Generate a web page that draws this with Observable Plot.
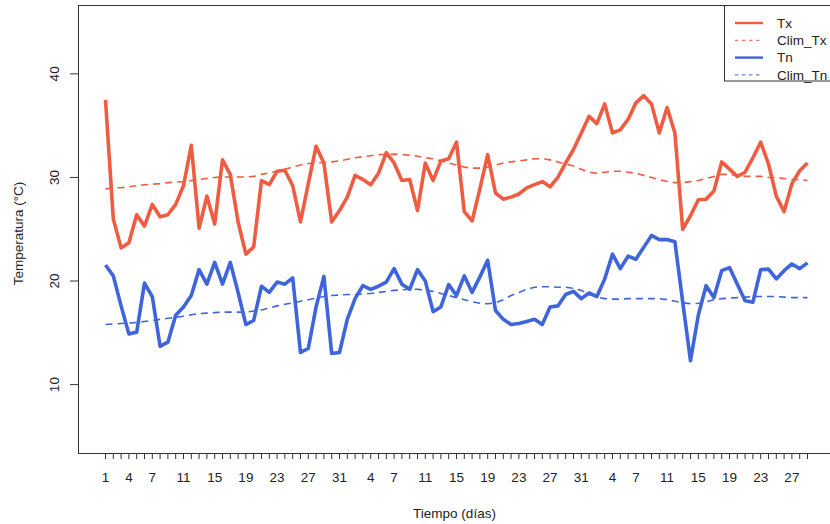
<!DOCTYPE html>
<html>
<head>
<meta charset="utf-8">
<script src="https://cdn.jsdelivr.net/npm/d3@7"></script>
<script src="https://cdn.jsdelivr.net/npm/@observablehq/plot@0.6"></script>
<style>
  body { margin: 0; background: #fff; }
  #chart svg { display: block; }
</style>
</head>
<body>
<div id="chart"></div>
<script>
// Three consecutive months of daily temperatures (Dec, Jan, Feb)
const monthLengths = [31, 31, 29];

// Observed daily maximum temperature (°C)
const tx = [
  37.5, 26.0, 23.2, 23.7, 26.4, 25.3, 27.4, 26.2, 26.4, 27.4,
  29.2, 33.1, 25.1, 28.2, 25.5, 31.7, 30.3, 25.7, 22.6, 23.3,
  29.7, 29.3, 30.6, 30.7, 29.2, 25.7, 29.4, 33.0, 31.4, 25.7,
  26.8, 28.1, 30.2, 29.8, 29.3, 30.4, 32.4, 31.4, 29.7, 29.8,
  26.8, 31.4, 29.7, 31.6, 31.8, 33.4, 26.7, 25.8, 28.9, 32.2,
  28.5, 27.9, 28.1, 28.4, 29.0, 29.3, 29.6, 29.1, 30.0, 31.4,
  32.7, 34.3, 35.9, 35.2, 37.1, 34.3, 34.6, 35.6, 37.2, 37.9,
  37.1, 34.3, 36.75, 34.3, 25.0, 26.3, 27.85, 27.9, 28.7, 31.5,
  30.8, 30.1, 30.5, 31.9, 33.4, 31.3, 28.2, 26.7, 29.4, 30.65,
  31.4
];

// Climatological daily maximum (°C)
const climTx = [
  28.9, 29.0, 29.0, 29.1, 29.2, 29.3, 29.35, 29.4, 29.5, 29.55,
  29.6, 29.7, 29.8, 29.9, 30.0, 30.05, 30.05, 30.05, 30.05, 30.1,
  30.3, 30.45, 30.6, 30.8, 31.0, 31.2, 31.35, 31.4, 31.45, 31.5,
  31.6, 31.75, 31.9, 32.0, 32.1, 32.2, 32.2, 32.25, 32.2, 32.15,
  32.05, 31.9, 31.8, 31.6, 31.4, 31.2, 31.0, 30.9, 30.9, 31.0,
  31.2, 31.4, 31.5, 31.6, 31.7, 31.8, 31.8, 31.7, 31.5, 31.3,
  31.1, 30.8, 30.5, 30.4, 30.5, 30.6, 30.6, 30.5, 30.4, 30.2,
  30.0, 29.8, 29.6, 29.5, 29.5, 29.6, 29.7, 29.9, 30.1, 30.3,
  30.3, 30.2, 30.1, 30.1, 30.1, 30.0, 30.0, 29.9, 29.8, 29.8,
  29.7
];

// Observed daily minimum temperature (°C)
const tn = [
  21.55, 20.5, 17.6, 14.9, 15.05, 19.8, 18.5, 13.7, 14.1, 16.7,
  17.5, 18.6, 21.1, 19.7, 21.8, 19.7, 21.8, 18.9, 15.8, 16.2,
  19.5, 18.9, 19.9, 19.7, 20.3, 13.1, 13.5, 17.5, 20.45, 13.0,
  13.1, 16.3, 18.3, 19.55, 19.2, 19.5, 19.9, 21.2, 19.7, 19.2,
  21.1, 20.0, 17.05, 17.5, 19.65, 18.6, 20.5, 18.9, 20.4, 22.0,
  17.15, 16.3, 15.8, 15.9, 16.1, 16.3, 15.8, 17.5, 17.6, 18.7,
  19.0, 18.3, 18.85, 18.5, 20.2, 22.6, 21.2, 22.4, 22.1, 23.25,
  24.4, 24.0, 24.0, 23.8, 18.0, 12.3, 16.7, 19.55, 18.4, 21.0,
  21.3, 19.7, 18.1, 17.95, 21.1, 21.15, 20.2, 21.0, 21.65, 21.2,
  21.75
];

// Climatological daily minimum (°C)
const climTn = [
  15.8, 15.85, 15.9, 15.95, 16.0, 16.1, 16.2, 16.3, 16.4, 16.5,
  16.6, 16.75, 16.85, 16.9, 16.95, 17.0, 17.0, 17.0, 17.0, 17.1,
  17.2, 17.4, 17.6, 17.75, 17.9, 18.05, 18.2, 18.35, 18.5, 18.6,
  18.65, 18.7, 18.7, 18.75, 18.8, 18.9, 19.0, 19.1, 19.15, 19.2,
  19.2, 19.1, 19.0, 18.8, 18.6, 18.4, 18.2, 18.0, 17.85, 17.8,
  17.9, 18.2, 18.6, 18.9, 19.2, 19.4, 19.45, 19.45, 19.4, 19.4,
  19.3, 19.1, 18.7, 18.45, 18.3, 18.25, 18.25, 18.3, 18.3, 18.3,
  18.3, 18.3, 18.2, 18.05, 17.9, 17.8, 17.85, 18.0, 18.2, 18.3,
  18.35, 18.4, 18.45, 18.5, 18.5, 18.5, 18.5, 18.45, 18.4, 18.4,
  18.4
];

// Day positions (0-based) that carry a printed day-of-month label
const labeledIdx = [0, 3, 6, 10, 14, 18, 22, 26, 30,
                    34, 37, 41, 45, 49, 53, 57, 61,
                    65, 68, 72, 76, 80, 84, 88];
const yTicks = [10, 20, 30, 40];

const seriesNames = ["Tx", "Clim_Tx", "Tn", "Clim_Tn"];
const seriesColors = ["#EE5C42", "#EE5C42", "#3F65DB", "#3F65DB"];
const seriesDashed = [false, true, false, true];

const FONT = "'Liberation Sans', Arial, Helvetica, sans-serif";
const INK = "#333";
const FS = 13.5;

// day of month for every position along the x axis
const dayOfMonth = monthLengths.flatMap(n => d3.range(1, n + 1));
const allIdx = d3.range(dayOfMonth.length);
const labeled = new Set(labeledIdx);

const seriesValues = [tx, climTx, tn, climTn];

const lineMarks = seriesValues.map((vals, k) =>
  Plot.line(vals, {
    x: (d, i) => i,
    y: d => d,
    stroke: seriesColors[k],
    strokeWidth: seriesDashed[k] ? 1.6 : 3.6,
    strokeDasharray: seriesDashed[k] ? "7,5" : null,
    strokeLinejoin: "round",
    strokeLinecap: "butt"
  })
);
// draw dashed climatologies beneath the observed series
const ordered = [lineMarks[1], lineMarks[3], lineMarks[0], lineMarks[2]];

const chart = Plot.plot({
  width: 830,
  height: 524,
  marginLeft: 78,
  marginRight: 0,
  marginTop: 5,
  marginBottom: 71,
  style: { fontFamily: FONT, fontSize: FS + "px", color: "#222", background: "#fff" },
  x: { domain: [-3.46, 92.95] },
  y: { domain: [3.35, 46.6] },
  marks: [
    ...ordered,
    Plot.frame({ anchor: "left", stroke: INK }),
    Plot.frame({ anchor: "top", stroke: INK }),
    Plot.frame({ anchor: "bottom", stroke: INK }),
    Plot.axisX({
      ticks: allIdx,
      tickSize: 6,
      tickPadding: 13,
      stroke: INK,
      fontSize: FS,
      tickFormat: i => (labeled.has(i) ? String(dayOfMonth[i]) : ""),
      label: null
    }),
    Plot.axisY({
      ticks: yTicks,
      tickSize: 8,
      tickPadding: 12,
      tickRotate: -90,
      stroke: INK,
      fontSize: FS,
      label: null
    }),
    Plot.text(["Tiempo (días)"], {
      frameAnchor: "bottom",
      dy: 60,
      lineAnchor: "middle",
      textAnchor: "middle",
      fontSize: FS,
      fill: "#222"
    }),
    Plot.text(["Temperatura (°C)"], {
      frameAnchor: "left",
      dx: -60,
      dy: 4,
      rotate: -90,
      textAnchor: "middle",
      lineAnchor: "middle",
      fontSize: FS,
      fill: "#222"
    })
  ]
});

document.getElementById("chart").append(chart);

// legend box in the upper-right corner of the panel
const svg = d3.select(chart);
const lg = svg.append("g")
  .attr("font-family", FONT)
  .attr("font-size", FS)
  .attr("text-anchor", "start")
  .attr("fill", "#222");
lg.append("rect")
  .attr("x", 724.5).attr("y", 5.5)
  .attr("width", 130).attr("height", 75.5)
  .attr("fill", "#fff").attr("stroke", INK);
seriesNames.forEach((name, k) => {
  const y = 23 + k * 17.3;
  lg.append("line")
    .attr("x1", 735).attr("x2", 763)
    .attr("y1", y).attr("y2", y)
    .attr("stroke", seriesColors[k])
    .attr("stroke-width", seriesDashed[k] ? 1 : 2.4)
    .attr("stroke-dasharray", seriesDashed[k] ? "3.5,3.5" : null);
  lg.append("text")
    .attr("x", 777).attr("y", y).attr("dy", "0.35em")
    .text(name);
});
</script>
</body>
</html>
